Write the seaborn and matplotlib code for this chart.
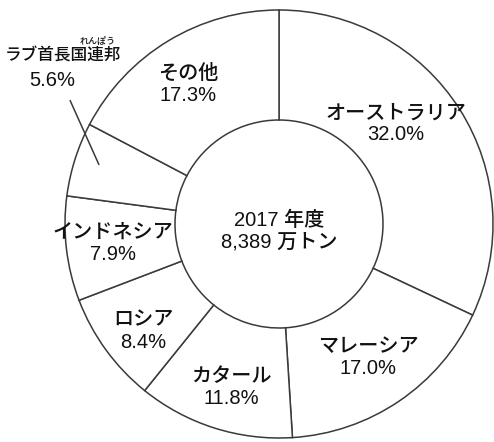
import matplotlib
matplotlib.use("Agg")
import matplotlib.pyplot as plt
import seaborn as sns

# the first kana of the UAE label is cut off in the source picture
labels = ["オーストラリア", "マレーシア", "カタール", "ロシア",
          "インドネシア", "ラブ首長国連邦", "その他"]
shares = [32.0, 17.0, 11.8, 8.4, 7.9, 5.6, 17.3]
center_title = "2017 年度\n8,389 万トン"

sns.set_theme(style="white")
plt.rcParams["font.family"] = ["Liberation Sans", "Noto Sans CJK JP"]

fig = plt.figure(figsize=(4.94, 4.42), dpi=100)
ax = fig.add_axes([0, 0, 1, 1])

# donut, drawn clockwise from 12 o'clock
cx, cy, r_out, r_in = 279, 218, 214, 104
ax.pie(shares, startangle=90, counterclock=False,
       center=(cx, cy), radius=r_out, frame=True,
       colors=["white"] * len(shares),
       wedgeprops=dict(width=r_out - r_in, edgecolor="#3a3a3a", linewidth=1.1))
ax.set_xlim(0, 494)
ax.set_ylim(0, 442)
ax.set_aspect("equal")
ax.axis("off")

txt = dict(fontsize=14.5, linespacing=1.2, color="#111111", ha="center",
           va="center", fontweight="medium")

ax.text(cx, 442 - 231, center_title, **txt)

# label spots in pixels from top-left
label_xy = [(396, 124), (368, 358), (231, 388), (143, 331),
            (113, 243), None, (188, 84)]
for name, val, xy in zip(labels, shares, label_xy):
    if xy is None:
        continue
    ax.text(xy[0], 442 - xy[1], f"{name}\n{val:.1f}%", **txt)

# UAE label sits outside the ring with a leader line
ax.text(5, 442 - 56, labels[5], ha="left", va="center",
        fontsize=12, color="#111111", fontweight="medium")
ax.text(52, 442 - 80, f"{shares[5]:.1f}%", ha="center", va="center",
        fontsize=14.5, color="#111111", fontweight="medium")
ax.text(98, 442 - 41, "れんぽう", ha="center", va="center",
        fontsize=6.5, color="#111111", fontweight="medium")
ax.annotate("", xy=(100, 442 - 167), xytext=(69, 442 - 98),
            arrowprops=dict(arrowstyle="-", color="#3a3a3a", lw=1.1))

fig.savefig("out.png", dpi=100, facecolor="white")
